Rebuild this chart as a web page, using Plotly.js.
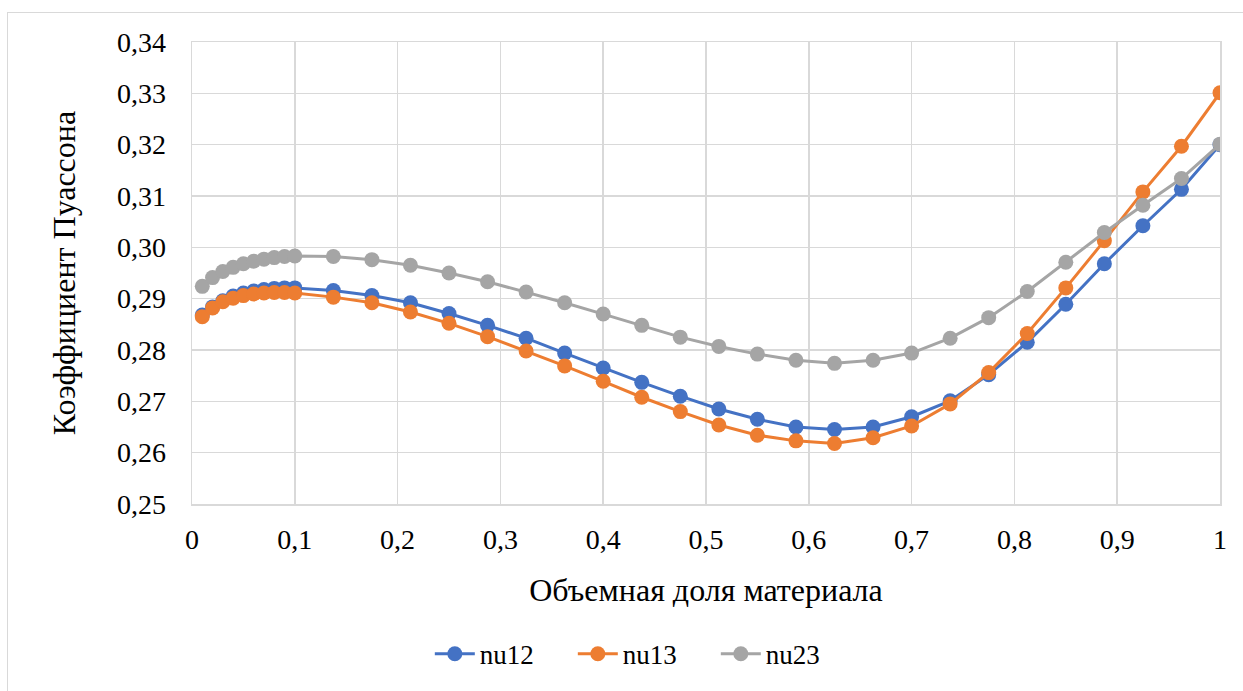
<!DOCTYPE html>
<html>
<head>
<meta charset="utf-8">
<script src="https://cdn.plot.ly/plotly-3.0.1.min.js"></script>
<style>
html,body{margin:0;padding:0;background:#fff;}
#wrap{position:relative;width:1243px;height:691px;overflow:hidden;}
#frame{position:absolute;left:7px;top:12px;width:1300px;height:800px;border-left:1px solid #d9d9d9;border-top:1px solid #d9d9d9;pointer-events:none;}
#chart{position:absolute;left:0;top:0;width:1243px;height:691px;}
</style>
</head>
<body>
<div id="wrap"><div id="chart"></div><div id="frame"></div></div>
<script>
const xVals = [0.01,0.02,0.03,0.04,0.05,0.06,0.07,0.08,0.09,0.1,
  0.1375,0.175,0.2125,0.25,0.2875,0.325,0.3625,0.4,0.4375,0.475,0.5125,0.55,0.5875,0.625,0.6625,0.7,
  0.7375,0.775,0.8125,0.85,0.8875,0.925,0.9625,1.0];

const nu12 = [0.2868,0.2884,0.2896,0.2905,0.2911,0.2915,0.2918,0.2920,0.2921,0.2921,
  0.2916,0.2906,0.2892,0.2871,0.2848,0.2823,0.2794,0.2765,0.2737,0.2710,0.2685,0.2665,0.2650,0.2645,0.2650,0.2670,
  0.2701,0.2752,0.2815,0.2889,0.2968,0.3042,0.3113,0.3200];

const nu13 = [0.2865,0.2882,0.2894,0.2901,0.2906,0.2909,0.2911,0.2912,0.2912,0.2911,
  0.2903,0.2892,0.2874,0.2852,0.2826,0.2798,0.2769,0.2739,0.2708,0.2680,0.2654,0.2634,0.2623,0.2618,0.2629,0.2652,
  0.2695,0.2756,0.2832,0.2921,0.3013,0.3108,0.3197,0.3301];

const nu23 = [0.2924,0.2941,0.2953,0.2961,0.2968,0.2973,0.2977,0.2980,0.2982,0.2983,
  0.2982,0.2976,0.2965,0.2950,0.2933,0.2913,0.2892,0.2870,0.2848,0.2825,0.2807,0.2792,0.2780,0.2774,0.2780,0.2794,
  0.2823,0.2863,0.2914,0.2971,0.3029,0.3082,0.3134,0.3201];

const seriesNames = ['nu12','nu13','nu23'];
const xTitle = 'Объемная доля материала';
const yTitle = 'Коэффициент Пуассона';

const colors = ['#4472C4','#ED7D31','#A5A5A5'];
const ys = [nu12, nu13, nu23];
const font = '"Liberation Serif", "Times New Roman", serif';

const traces = ys.map((y, i) => ({
  x: xVals, y: y, name: seriesNames[i], type: 'scatter', mode: 'lines+markers',
  line: {color: colors[i], width: 3},
  marker: {color: colors[i], size: 15}
}));

const layout = {
  width: 1243, height: 691,
  margin: {l: 192, r: 23, t: 42, b: 184},
  paper_bgcolor: 'rgba(0,0,0,0)', plot_bgcolor: '#fff',
  separators: ', ',
  font: {family: font, size: 28, color: '#000'},
  showlegend: true,
  legend: {orientation: 'h', x: 0.44, xanchor: 'center', y: -0.325, yanchor: 'middle',
    font: {family: font, size: 27}, itemwidth: 40, entrywidth: 88, traceorder: 'normal'},
  xaxis: {
    range: [0, 1], dtick: 0.1, tick0: 0, tickformat: '',
    showgrid: true, gridcolor: '#d9d9d9', gridwidth: 1.5,
    showline: true, linecolor: '#d9d9d9', linewidth: 1.5, mirror: true,
    zeroline: false, ticks: '', ticklabelstandoff: 10,
    tickfont: {family: font, size: 28},
    title: {text: xTitle, font: {family: font, size: 32}, standoff: 24}
  },
  yaxis: {
    range: [0.25, 0.34], dtick: 0.01, tick0: 0.25, tickformat: '.2f',
    showgrid: true, gridcolor: '#d9d9d9', gridwidth: 1.5,
    showline: true, linecolor: '#d9d9d9', linewidth: 1.5, mirror: true,
    zeroline: false, ticks: '', ticklabelstandoff: 19,
    tickfont: {family: font, size: 28},
    title: {text: yTitle, font: {family: font, size: 32}, standoff: 31}
  }
};

Plotly.newPlot('chart', traces, layout, {displayModeBar: false, staticPlot: true});
</script>
</body>
</html>
